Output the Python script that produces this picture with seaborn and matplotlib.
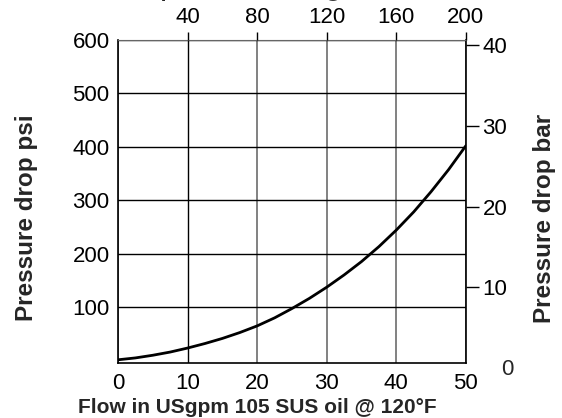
import numpy as np
import pandas as pd
import matplotlib
matplotlib.use("Agg")
import matplotlib.pyplot as plt
import seaborn as sns

# pressure drop curve
flow_gpm = [0, 2.5, 5, 7.5, 10, 12.5, 15, 17.5, 20, 22.5, 25,
            27.5, 30, 32.5, 35, 37.5, 40, 42.5, 45, 47.5, 50]
drop_psi = [1, 4.5, 9.5, 15.5, 23, 31.5, 41, 52, 64.5, 79.5, 97,
            116, 137, 160, 185, 213, 244, 278, 316, 357, 402]

bottom_ticks = [0, 10, 20, 30, 40, 50]
left_ticks = [100, 200, 300, 400, 500, 600]
top_ticks = [40, 80, 120, 160, 200]
right_ticks = [10, 20, 30, 40]

df = pd.DataFrame({"flow": flow_gpm, "psi": drop_psi})

sns.set_style("white")
plt.rcParams["font.family"] = ["Liberation Sans", "DejaVu Sans"]

fig = plt.figure(figsize=(5.62, 4.18), dpi=100)
ax = fig.add_axes([0.21, 0.1316, 0.619, 0.7727])

sns.lineplot(data=df, x="flow", y="psi", ax=ax, color="black", linewidth=2.0)

ax.set_xlim(0, 50)
ax.set_ylim(-5, 600)
ax.set_xticks(bottom_ticks)
ax.set_yticks(left_ticks)
ax.tick_params(axis="both", length=0, labelsize=16, colors="black")
ax.tick_params(axis="x", pad=7)
ax.tick_params(axis="y", pad=6)
ax.xaxis.grid(True, color="#777777", linewidth=1.3)
ax.yaxis.grid(True, color="black", linewidth=1.0)
ax.get_xgridlines()[1].set_color("black")
ax.get_xgridlines()[1].set_linewidth(1.0)
for side in ["left", "bottom", "right"]:
    ax.spines[side].set_color("black")
    ax.spines[side].set_linewidth(1.2)
ax.spines["top"].set_color("#666666")

ax.set_xlabel("Flow in USgpm 105 SUS oil @ 120°F", fontsize=15,
              fontweight="bold", va="center")
ax.set_ylabel("Pressure drop psi", fontsize=17.5, fontweight="bold", va="center")
ax.xaxis.set_label_coords(0.40, -0.139)
ax.yaxis.set_label_coords(-0.264, 0.450)

# top axis: lpm
axt = ax.twiny()
axt.set_xlim(0, 200)
axt.set_xticks(top_ticks)
axt.tick_params(axis="x", length=6, width=1, pad=3, labelsize=16, colors="black")
for s in axt.spines.values():
    s.set_visible(False)
axt.grid(False)

# right axis: bar
axr = ax.twinx()
axr.set_ylim(0.62, 40.62)
axr.set_yticks(right_ticks)
axr.tick_params(axis="y", length=9, width=1, pad=3, labelsize=16, colors="black")
for s in axr.spines.values():
    s.set_visible(False)
axr.grid(False)
axr.set_ylabel("Pressure drop bar", fontsize=17.5, fontweight="bold", va="center")
axr.yaxis.set_label_coords(1.227, 0.447)
axr.text(1.118, -0.019, "0", transform=axr.transAxes, fontsize=16,
         ha="center", va="center")

# top label, cut off by the figure edge like in the source
fig.text(77 / 562, 1.0 + 3 / 418, "Flow in lpm, 105 SUS oil @ 49°C", fontsize=15,
         fontweight="bold", ha="left", va="baseline")

fig.savefig("out.png", dpi=100)
